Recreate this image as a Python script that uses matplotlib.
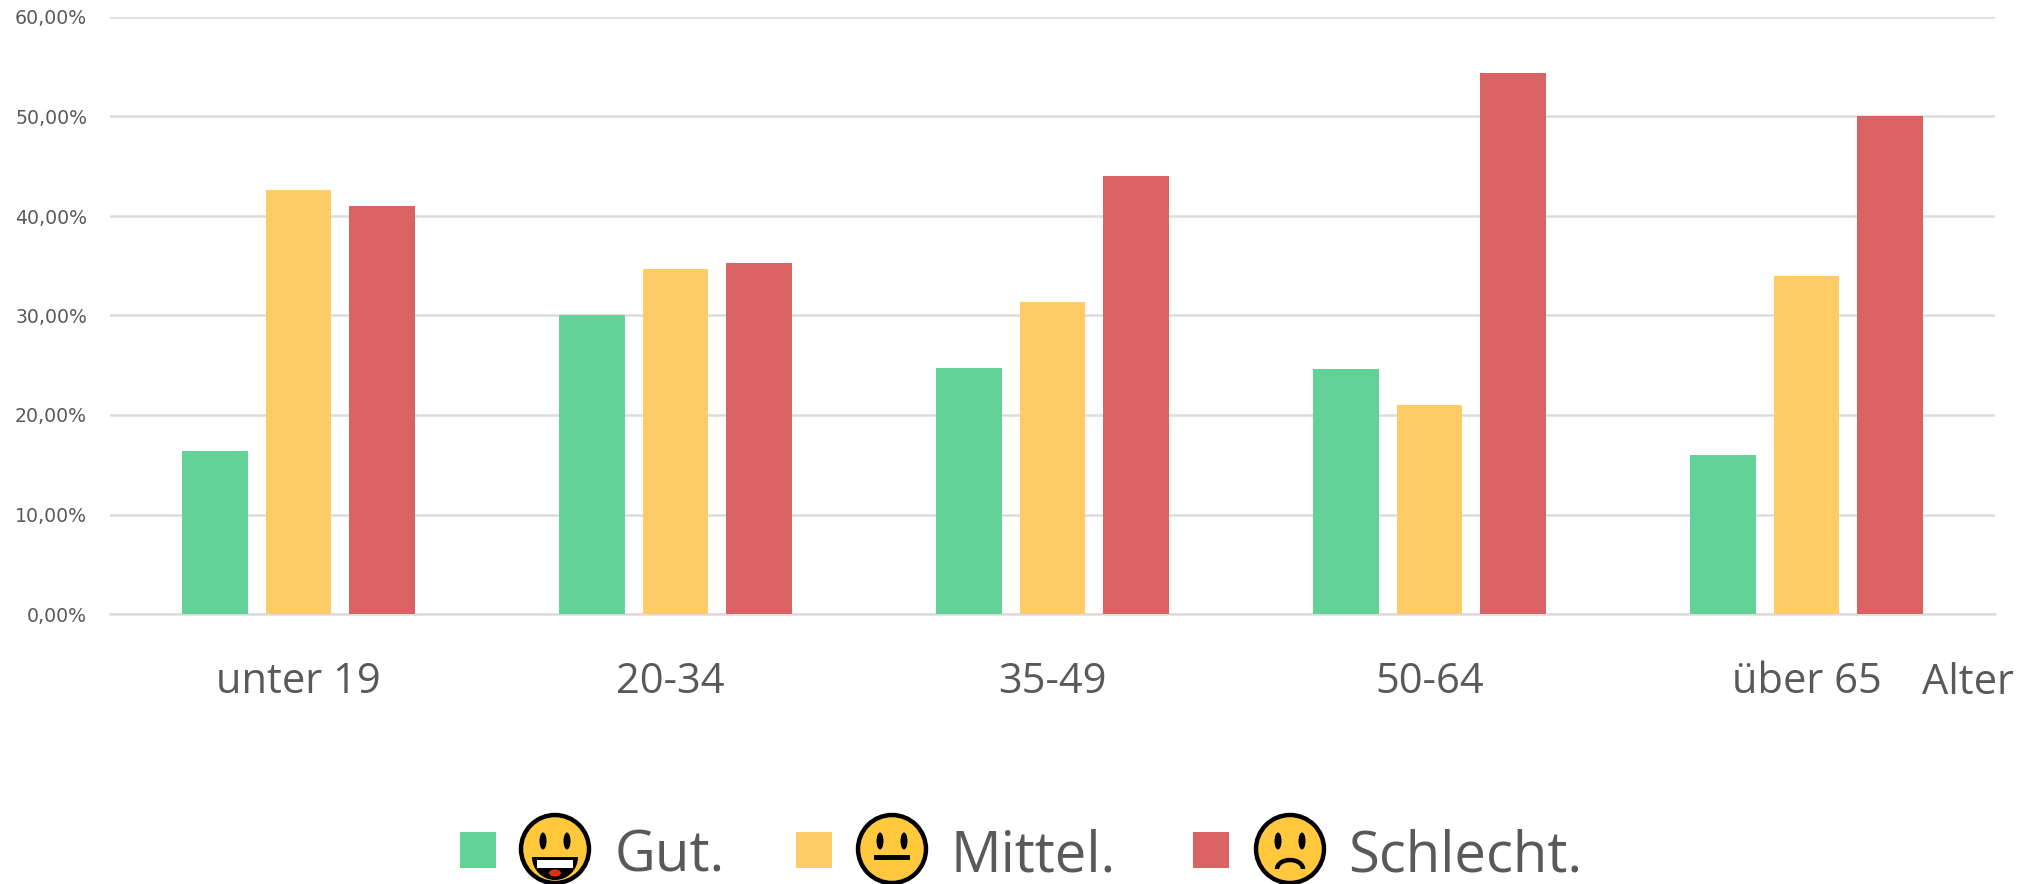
import numpy as np
import matplotlib
matplotlib.use("Agg")
import matplotlib.pyplot as plt
from matplotlib.patches import Rectangle, Circle, Arc, Ellipse, Wedge
from matplotlib.transforms import ScaledTranslation

categories = ["unter 19", "20-34", "35-49", "50-64", "über 65"]
gut = [16.4, 30.1, 24.7, 24.6, 16.0]
mittel = [42.6, 34.7, 31.4, 21.0, 34.0]
schlecht = [41.0, 35.3, 44.0, 54.4, 50.0]
yticks = [0, 10, 20, 30, 40, 50, 60]
ytick_labels = ["0,00%", "10,00%", "20,00%", "30,00%", "40,00%", "50,00%", "60,00%"]
legend_names = ["Gut.", "Mittel.", "Schlecht."]

GREEN = "#63D297"
YELLOW = "#FFCB66"
RED = "#D96262"
GREY = "#595959"
W, H = 2038, 884

fig = plt.figure(figsize=(W / 100, H / 100), dpi=100)
ax = fig.add_axes([110 / W, 1 - 614 / H, (1995 - 110) / W, (614 - 17) / H])

x = np.arange(len(categories))
bw = 0.174
step = 0.2215
ax.bar(x - step, gut, bw, color=GREEN, zorder=3)
ax.bar(x, mittel, bw, color=YELLOW, zorder=3)
ax.bar(x + step, schlecht, bw, color=RED, zorder=3)

ax.set_xlim(-0.5, 4.5)
ax.set_ylim(0, 60)
ax.set_yticks(yticks)
ax.set_yticklabels(ytick_labels, fontsize=13.6, color=GREY, family="DejaVu Sans")
ax.set_xticks(x)
ax.set_xticklabels(categories, fontsize=30, color=GREY, family="Open Sans")
ax.tick_params(axis="y", length=0, pad=16.5)
ax.tick_params(axis="x", length=0, pad=33.5)
ax.grid(axis="y", color="#DCDCDC", lw=1.8, zorder=0)
ax.set_axisbelow(True)
for s in ["top", "right", "left"]:
    ax.spines[s].set_visible(False)
ax.spines["bottom"].set_color("#DCDCDC")
ax.spines["bottom"].set_linewidth(1.8)

# 20-34 sits a bit left of its group in the original
lab = ax.get_xticklabels()[1]
lab.set_transform(lab.get_transform() + ScaledTranslation(-5 / 100, 0, fig.dpi_scale_trans))

# overlay in pixel coordinates for legend and the "Alter" label
ov = fig.add_axes([0, 0, 1, 1])
ov.set_xlim(0, W)
ov.set_ylim(H, 0)
ov.set_aspect("equal")
ov.axis("off")
ov.patch.set_alpha(0)

ov.text(1922, 683, "Alter", fontsize=30, color=GREY, family="Open Sans", va="center")


def face(cx, cy, kind):
    r = 34
    ov.add_patch(Circle((cx, cy), r, fc="#FFC83D", ec="black", lw=3.2, clip_on=False))
    for dx in (-12, 12):
        ov.add_patch(Ellipse((cx + dx, cy - 8), 7, 17, fc="black", ec="none"))
    if kind == 0:
        ov.add_patch(Wedge((cx, cy + 8), 23, 0, 180, fc="black", ec="none"))
        ov.add_patch(Rectangle((cx - 18, cy + 11), 36, 8, fc="white", ec="none"))
        ov.add_patch(Ellipse((cx, cy + 24), 12, 7, fc="#E03010", ec="none"))
    elif kind == 1:
        ov.add_patch(Rectangle((cx - 18, cy + 6), 36, 5, fc="black", ec="none"))
    else:
        ov.add_patch(Arc((cx, cy + 20), 26, 18, theta1=180, theta2=360, color="black", lw=3.2))


square_x = [460, 796, 1193]
face_x = [555, 892, 1290]
text_x = [615, 951, 1348]
colors = [GREEN, YELLOW, RED]
for i in range(3):
    ov.add_patch(Rectangle((square_x[i], 832), 36, 36, fc=colors[i], ec="none"))
    face(face_x[i], 849, i)
    ov.text(text_x[i], 857, legend_names[i], fontsize=40.5, color=GREY,
            family="Open Sans", va="center")

fig.savefig("out.png", dpi=100)
